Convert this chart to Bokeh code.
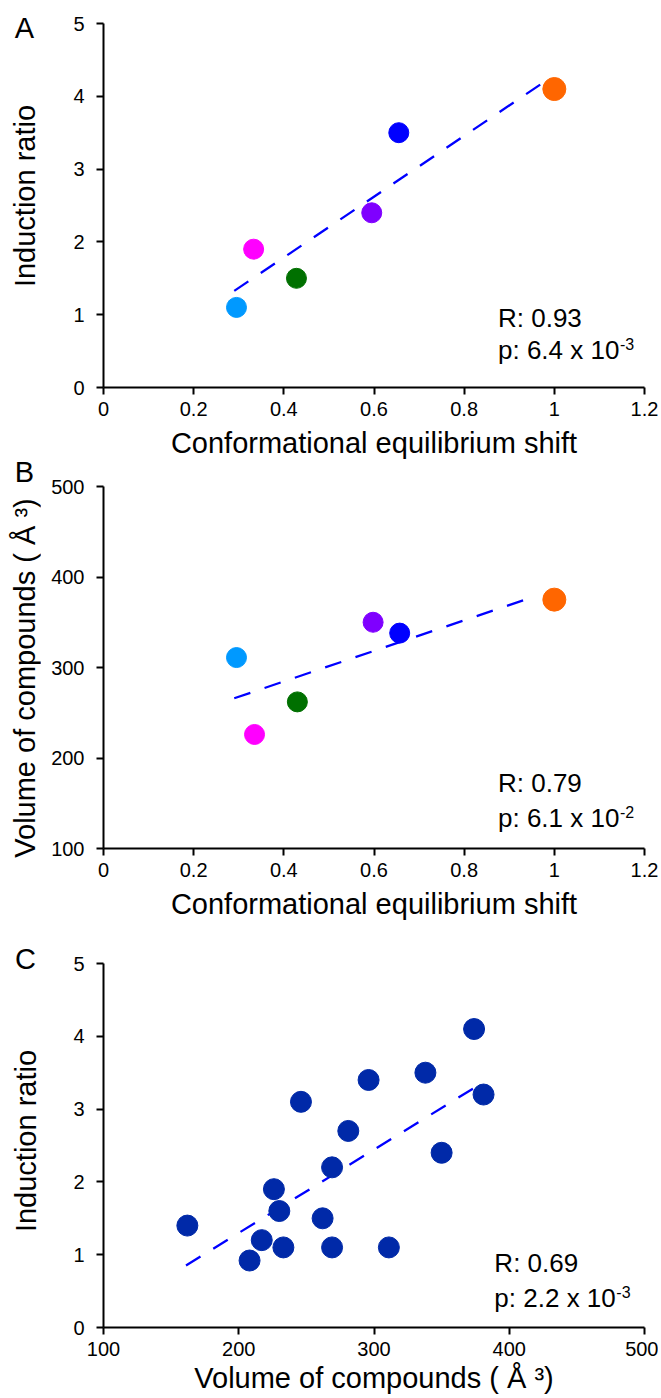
import numpy as np
from bokeh.plotting import figure
from bokeh.layouts import column, row
from bokeh.models import Range1d, FixedTicker, Label, Div
from bokeh.embed import file_html
from bokeh.resources import INLINE

# ---------------- data ----------------
a_shift = [0.295, 0.333, 0.428, 0.595, 0.655, 1.0]
a_ratio = [1.1, 1.9, 1.5, 2.4, 3.5, 4.1]
compound_colors = ["#0099FF", "#FF00FF", "#007000", "#7F00FF", "#0000FF", "#FF6600"]

b_shift = [0.295, 0.335, 0.430, 0.598, 0.657, 1.0]
b_volume = [311, 226, 262, 350, 338, 375]

c_volume = [162, 208, 217, 226, 230, 233, 246, 262, 269, 269, 281, 296, 311, 338, 350, 374, 381]
c_ratio = [1.4, 0.92, 1.2, 1.9, 1.6, 1.1, 3.1, 1.5, 2.2, 1.1, 2.7, 3.4, 1.1, 3.5, 2.4, 4.1, 3.2]

a_fit_span = [0.29, 0.985]
b_fit_span = [0.29, 0.95]
c_fit_span = [161, 377]

shift_ticks = [0, 0.2, 0.4, 0.6, 0.8, 1, 1.2]
shift_labels = ["0", "0.2", "0.4", "0.6", "0.8", "1", "1.2"]
ratio_ticks = [0, 1, 2, 3, 4, 5]
volume_ticks = [100, 200, 300, 400, 500]

label_shift = "Conformational equilibrium shift"
label_ratio = "Induction ratio"
label_volume = "Volume of compounds ( Å ³)"

stats_a = ("R: 0.93", "p: 6.4 x 10", "-3")
stats_b = ("R: 0.79", "p: 6.1 x 10", "-2")
stats_c = ("R: 0.69", "p: 2.2 x 10", "-3")

FONT = "Liberation Sans"
FW = 541
STRIP_W = 40


def make_fig(xr, yr, xticks, yticks, xlabel, top, fh, bottom, ax_standoff=8):
    p = figure(frame_width=FW, frame_height=fh, x_range=Range1d(*xr), y_range=Range1d(*yr),
               min_border_left=63, min_border_right=14, min_border_top=top,
               min_border_bottom=bottom, output_backend="svg", toolbar_location=None)
    p.grid.visible = False
    p.outline_line_color = None
    for ax in (p.xaxis[0], p.yaxis[0]):
        ax.axis_line_width = 2
        ax.axis_line_color = "black"
        ax.major_tick_line_width = 2
        ax.major_tick_line_color = "black"
        ax.major_tick_in = 0
        ax.major_tick_out = 7
        ax.minor_tick_line_color = None
        ax.major_label_text_font = FONT
        ax.major_label_text_font_size = "20px"
        ax.major_label_text_color = "black"
        ax.axis_label_text_font = FONT
        ax.axis_label_text_font_size = "29px"
        ax.axis_label_text_font_style = "normal"
        ax.axis_label_text_color = "black"
    p.xaxis.ticker = FixedTicker(ticks=xticks)
    p.yaxis.ticker = FixedTicker(ticks=yticks)
    p.xaxis.axis_label = xlabel
    p.xaxis.major_label_standoff = 7
    p.yaxis.major_label_standoff = 12
    p.xaxis.axis_label_standoff = ax_standoff
    return p


def make_strip(height, letter, letter_xy, ylabel, ylabel_xy):
    base = ("position:absolute;font-family:'Liberation Sans',Arial,sans-serif;font-size:29px;"
            "line-height:1;white-space:nowrap;color:#000;")
    html = (
        f"<div style=\"position:relative;width:{STRIP_W}px;height:{height}px;overflow:visible;\">"
        f"<div style=\"{base}left:{letter_xy[0]}px;top:{letter_xy[1]}px;"
        f"transform:translate(-50%,-50%);\">{letter}</div>"
        f"<div style=\"{base}left:{ylabel_xy[0]}px;top:{ylabel_xy[1]}px;"
        f"transform:translate(-50%,-50%) rotate(-90deg);\">{ylabel}</div>"
        "</div>"
    )
    return Div(text=html, width=STRIP_W, height=height, margin=0,
               styles={"overflow": "visible"})


def add_fit(p, x, y, span):
    k, b = np.polyfit(np.asarray(x, float), np.asarray(y, float), 1)
    xs = np.asarray(span, float)
    p.line(xs, k * xs + b, line_color="#0000FF", line_width=2.3, line_dash="17 15")


def add_stats(p, x, y1, y2, stats):
    kw = dict(text_font=FONT, text_font_size="26px", text_color="black", text_baseline="middle")
    p.add_layout(Label(x=x, y=y1, text=stats[0], **kw))
    p.add_layout(Label(x=x, y=y2, text=stats[1], **kw))
    p.add_layout(Label(x=x, y=y2, text=stats[2], x_offset=122, y_offset=6,
                       text_font=FONT, text_font_size="16px", text_color="black",
                       text_baseline="middle"))


sizes_a = [20, 20, 20, 20, 20, 23]

# Panel A  (23 + 364 + 75 = 462)
pa = make_fig((0, 1.2), (0, 5), shift_ticks, ratio_ticks, label_shift, 23, 364, 75)
pa.xaxis.major_label_overrides = dict(zip(shift_ticks, shift_labels))
add_fit(pa, a_shift, a_ratio, a_fit_span)
pa.scatter(a_shift, a_ratio, size=sizes_a, fill_color=compound_colors, line_color=compound_colors)
add_stats(pa, 0.875, 0.96, 0.51, stats_a)
sa = make_strip(462, "A", (24.5, 27.5), label_ratio, (24.5, 196))

# Panel B  (24 + 362 + 75 = 461)
pb = make_fig((0, 1.2), (100, 500), shift_ticks, volume_ticks, label_shift, 24, 362, 75)
pb.xaxis.major_label_overrides = dict(zip(shift_ticks, shift_labels))
add_fit(pb, b_shift, b_volume, b_fit_span)
pb.scatter(b_shift, b_volume, size=sizes_a, fill_color=compound_colors, line_color=compound_colors)
add_stats(pb, 0.875, 172, 134, stats_b)
sb = make_strip(461, "B", (24.5, 9.7), label_volume, (24.5, 216))

# Panel C  (40 + 364 + 70 = 474)
pc = make_fig((100, 500), (0, 5), volume_ticks, ratio_ticks, label_volume, 40, 364, 70,
              ax_standoff=3)
add_fit(pc, c_volume, c_ratio, c_fit_span)
pc.scatter(c_volume, c_ratio, size=21, fill_color="#0029A8", line_color="#0029A8")
add_stats(pc, 389, 0.88, 0.41, stats_c)
sc = make_strip(474, "C", (25.5, 36), label_ratio, (25.5, 218))

layout = column(row(sa, pa, spacing=0), row(sb, pb, spacing=0), row(sc, pc, spacing=0), spacing=0)
open("out.html", "w").write(file_html(layout, INLINE))
